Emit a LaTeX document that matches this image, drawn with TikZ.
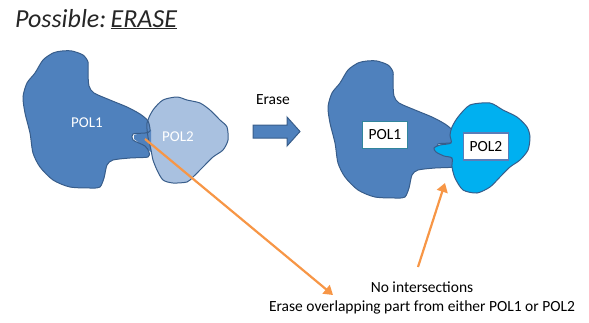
\documentclass[tikz,border=0pt]{standalone}
\usepackage{fontspec}
\setmainfont{Carlito}
\usetikzlibrary{arrows.meta}
\definecolor{polA}{HTML}{4F81BD}
\definecolor{polAline}{HTML}{385D8A}
\definecolor{polB}{HTML}{A9C1E0}
\definecolor{overlap}{HTML}{5A88C2}
\definecolor{polC}{HTML}{00B0F0}
\definecolor{orng}{HTML}{F79646}
\definecolor{boxA}{HTML}{31859C}
\definecolor{boxB}{HTML}{5B7DB8}
\tikzset{
  shapeline/.style={draw=polAline, line width=1pt},
  inlabel/.style={text=white, font=\fontsize{15}{18}\selectfont, inner sep=0pt},
  boxlabel/.style={draw, line width=1.3pt, fill=white, minimum width=45pt, minimum height=27pt, inner sep=0pt, font=\fontsize{15.5}{18}\selectfont},
  callout/.style={draw=orng, line width=2.2pt, -{Triangle[width=11pt,length=9pt]}},
  plain/.style={font=\fontsize{15.5}{19}\selectfont, align=center, inner sep=0pt}
}
\def\polone{(53,53) (62,51) (72,51) (83,55) (88,62) (88,73) (89,86) (94,93) (110,100) (127,107) (140,114) (148,121) (150,131) (145,133) (133,134) (133,140) (145,146) (149,152) (148,157) (130,158) (113,160) (107,165) (104,178) (100,187) (92,188) (70,187) (53,180) (40,167) (33,153) (30,133) (25,113) (23,97) (27,83) (35,73) (43,60)}
\def\poltwo{(163,100) (177,97) (187,100) (200,103) (210,110) (220,120) (227,127) (228,140) (223,150) (213,157) (203,167) (193,177) (187,182) (173,183) (163,180) (157,170) (153,160) (151,150) (148,137) (147,123) (153,110)}
\def\poltwoR{(470,105) (490,103) (503,110) (517,117) (527,127) (530,137) (528,150) (520,160) (510,167) (500,177) (490,187) (477,193) (463,190) (455,178) (452,167) (452,158) (444,156) (436,152) (434,148) (440,145) (451,143) (450,135) (452,127) (458,117)}
\begin{document}
\begin{tikzpicture}[x=1pt,y=-1pt]
\useasboundingbox (0,0) rectangle (589,322);
% title
\node[anchor=base west, inner sep=0pt, font=\fontsize{26}{30}\selectfont\itshape, text=black!85] (title) at (15,27) {Possible:\,\underline{ERASE}};
% left: POL1 and POL2 overlapping
\fill[polA] plot[smooth cycle, tension=0.45] coordinates {\polone};
\fill[polA] (134,135) -- (151,130) -- (151,152) -- (134,139) -- cycle;
\fill[polB] plot[smooth cycle, tension=0.45] coordinates {\poltwo};
\begin{scope}
  \clip plot[smooth cycle, tension=0.45] coordinates {\poltwo};
  \fill[overlap] plot[smooth cycle, tension=0.45] coordinates {\polone};
  \fill[overlap] (134,135) -- (151,130) -- (151,152) -- (134,139) -- cycle;
\end{scope}
\draw[shapeline] plot[smooth cycle, tension=0.45] coordinates {\polone};
\draw[shapeline] plot[smooth cycle, tension=0.45] coordinates {\poltwo};
\node[inlabel] (p1l) at (87,123) {POL1};
\node[inlabel] (p2l) at (178,137) {POL2};
% block arrow
\draw[polAline, fill=polA, line width=1pt] (253,125) -- (287,125) -- (287,117) -- (300,131.5) -- (287,146) -- (287,138) -- (253,138) -- cycle;
\node[plain] (erase) at (273,100) {Erase};
% right: after erase
\begin{scope}[shift={(305,10)}]
  \fill[polA] plot[smooth cycle, tension=0.45] coordinates {\polone};
  \fill[polA] (134,135) -- (151,130) -- (151,152) -- (134,139) -- cycle;
  \draw[shapeline] plot[smooth cycle, tension=0.45] coordinates {\polone};
\end{scope}
\draw[shapeline, fill=polC] plot[smooth cycle, tension=0.45] coordinates {\poltwoR};
\node[boxlabel, draw=boxA] (p1r) at (385,135) {POL1};
\node[boxlabel, draw=boxB] (p2r) at (486,146.5) {POL2};
% callouts
\node[plain] (note) at (422,298) {No intersections\\Erase overlapping part from either POL1 or POL2};
\coordinate (s1) at (145,139);
\coordinate (e1) at (333,295);
\coordinate (s2) at (418,267);
\coordinate (e2) at (445,183);
\draw[callout] (s1) -- (e1);
\draw[callout] (s2) -- (e2);
\end{tikzpicture}
\end{document}
